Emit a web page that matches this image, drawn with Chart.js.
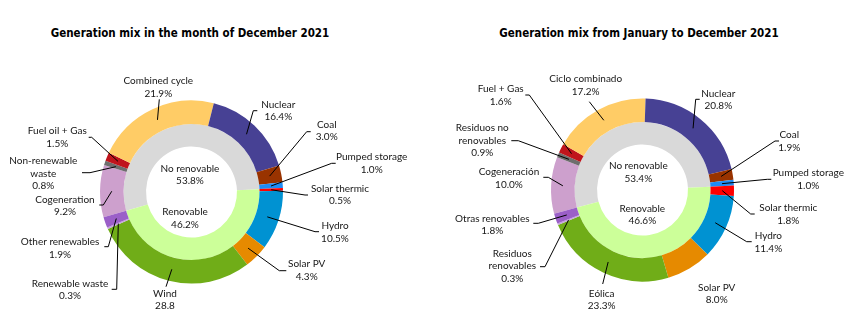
<!DOCTYPE html>
<html>
<head>
<meta charset="utf-8">
<script src="https://cdn.jsdelivr.net/npm/chart.js@4.4.1/dist/chart.umd.min.js"></script>
<style>
  html, body { margin: 0; padding: 0; background: #fff; }
  #wrap { position: relative; width: 861px; height: 321px; overflow: hidden; }
  canvas { position: absolute; top: 0; }
  .title {
    position: absolute; top: 25px; width: 400px; text-align: center;
    font: bold 13px "DejaVu Sans Condensed", "Liberation Sans", sans-serif;
    color: #000; white-space: nowrap; transform: scaleX(0.885);
  }
</style>
</head>
<body>
<div id="wrap">
  <div class="title" style="left:-10px">Generation mix in the month of December 2021</div>
  <div class="title" style="left:439px">Generation mix from January to December 2021</div>
  <canvas id="decChart" width="430" height="321" style="left:0"></canvas>
  <canvas id="yearChart" width="431" height="321" style="left:430px"></canvas>
</div>
<script>
// outer ring: technologies, clockwise from the cogeneration slice
const decLabels = ["Cogeneration", "Non-renewable\nwaste", "Fuel oil + Gas", "Combined cycle", "Nuclear", "Coal",
  "Pumped storage", "Solar thermic", "Hydro", "Solar PV", "Wind", "Renewable waste", "Other renewables"];
const decValues = [9.2, 0.8, 1.5, 21.9, 16.4, 3.0, 1.0, 0.5, 10.5, 4.3, 28.8, 0.3, 1.9];

const yearLabels = ["Cogeneración", "Residuos no\nrenovables", "Fuel + Gas", "Ciclo combinado", "Nuclear", "Coal",
  "Pumped storage", "Solar thermic", "Hydro", "Solar PV", "Eólica", "Residuos\nrenovables", "Otras renovables"];
const yearValues = [10.0, 0.9, 1.6, 17.2, 20.8, 1.9, 1.0, 1.8, 11.4, 8.0, 23.3, 0.3, 1.8];

const techColors = ["#CDA0CD", "#6E6E6E", "#C0141C", "#FFCC66", "#474194", "#993300",
  "#1E8CF5", "#FF0000", "#0092D2", "#E68A00", "#70AD18", "#C7A3E0", "#9B5FC8"];

// inner ring: renewable split
const splitLabels = ["No renovable", "Renovable"];
const decSplit = [53.8, 46.2];
const yearSplit = [53.4, 46.6];
const splitColors = ["#D9D9D9", "#CCFF99"];

// label placement around each ring, relative to the ring centre:
// [text x, first line y, leader end x, leader end y, horizontal tick]
const decLayout = [
  [-126.5, 7.3, -88.2, 13, -4],
  [-148.2, -31.3, -101.5, -19.3, -8],
  [-134.2, -61.3, -99.8, -54.7, -3],
  [-33.2, -111.3, -32.2, -92.7, 0],
  [86.8, -87.7, 61.8, -81.3, 4],
  [135.2, -67.7, 115.2, -60.3, 4],
  [180.2, -35.3, 140.2, -28.7, 4],
  [148.5, -3.7, 113.5, 3, 3],
  [143.5, 33.7, 123.5, 39.7, 4],
  [115.2, 72, 87.8, 78.7, 7],
  [-26.5, 101.3, -25.5, 94.7, 0],
  [-121.5, 91.3, -74.8, 97.3, -5],
  [-131.5, 49.7, -83.2, 54.7, -4],
];
const yearLayout = [
  [-133.5, -18.3, -94.2, -12.7, -5],
  [-160.2, -62.3, -124.2, -49.3, -7],
  [-141.8, -101, -113.2, -95, -4],
  [-56.8, -111, -53.2, -88.3, 0],
  [75.8, -96.7, 53.2, -90.7, 4],
  [146.8, -55, 132.5, -49, 4],
  [165.8, -17.3, 124.8, -10.7, 4],
  [145.8, 17.7, 108.2, 24, 4],
  [125.8, 46, 104.2, 51.7, 5],
  [74.2, 97.3, null, null, 0],
  [-40.8, 103.3, -39.8, 94, 0],
  [-130.2, 63.3, -97.5, 76.7, -5],
  [-150.2, 28.3, -104.2, 33.3, -5],
];
const decSplitPos = [[-1.5, -23.7], [-6.5, 19.7]];
const yearSplitPos = [[-4.2, -24], [-0.2, 18.3]];

const LINE_H = 12.7;
const FONT = '10px Lato, "Liberation Sans", sans-serif';

const leaderLabels = {
  id: "leaderLabels",
  afterDatasetsDraw(chart, args, opts) {
    const ctx = chart.ctx;
    const arcs = chart.getDatasetMeta(0).data;
    const names = chart.data.labels;
    const vals = chart.data.datasets[0].data;
    ctx.save();
    ctx.font = FONT;
    ctx.textAlign = "center";
    ctx.textBaseline = "middle";
    ctx.strokeStyle = "#000";
    ctx.lineWidth = 1;
    arcs.forEach((arc, i) => {
      const p = arc.getProps(["x", "y", "startAngle", "endAngle", "innerRadius", "outerRadius"], true);
      const [lx, ly, ex, ey, tick] = opts.layout[i];
      if (ex != null) {
        const mid = (p.startAngle + p.endAngle) / 2;
        const r = (p.innerRadius + p.outerRadius) / 2;
        ctx.beginPath();
        ctx.moveTo(p.x + Math.cos(mid) * r, p.y + Math.sin(mid) * r);
        ctx.lineTo(p.x + ex, p.y + ey);
        if (tick) ctx.lineTo(p.x + ex + tick, p.y + ey);
        ctx.stroke();
      }
      const v = vals[i].toFixed(1) + (opts.plain.includes(i) ? "" : "%");
      const lines = names[i].split("\n").concat(v);
      ctx.fillStyle = "#161616";
      lines.forEach((t, k) => ctx.fillText(t, p.x + lx, p.y + ly + k * LINE_H));
    });
    // inner ring captions in the hole
    const inner = chart.data.datasets[1];
    const c = arcs[0].getProps(["x", "y"], true);
    inner.data.forEach((v, i) => {
      const [dx, dy] = opts.splitPos[i];
      ctx.fillText(splitLabels[i], c.x + dx, c.y + dy);
      ctx.fillText(v.toFixed(1) + "%", c.x + dx, c.y + dy + LINE_H);
    });
    ctx.restore();
  },
};

function mixChart(id, labels, values, split, rotation, pad, layout, splitPos, plain) {
  return new Chart(document.getElementById(id), {
    type: "doughnut",
    data: {
      labels,
      datasets: [
        { data: values, backgroundColor: techColors, borderWidth: 0, weight: 23.5 },
        { data: split, backgroundColor: splitColors, borderWidth: 0, weight: 22.5 },
      ],
    },
    options: {
      responsive: false,
      animation: false,
      radius: 91.5,
      cutout: (45.5 / 91.5 * 100) + "%",
      rotation,
      layout: { padding: pad },
      plugins: {
        legend: { display: false },
        tooltip: { enabled: false },
        leaderLabels: { layout, splitPos, plain },
      },
    },
    plugins: [leaderLabels],
  });
}

mixChart("decChart", decLabels, decValues, decSplit, 254,
  { left: 91.5, right: 138.5, top: 92, bottom: 29 }, decLayout, decSplitPos, [10]);
mixChart("yearChart", yearLabels, yearValues, yearSplit, 255,
  { left: 112.5, right: 118.5, top: 90, bottom: 31 }, yearLayout, yearSplitPos, []);
</script>
</body>
</html>
